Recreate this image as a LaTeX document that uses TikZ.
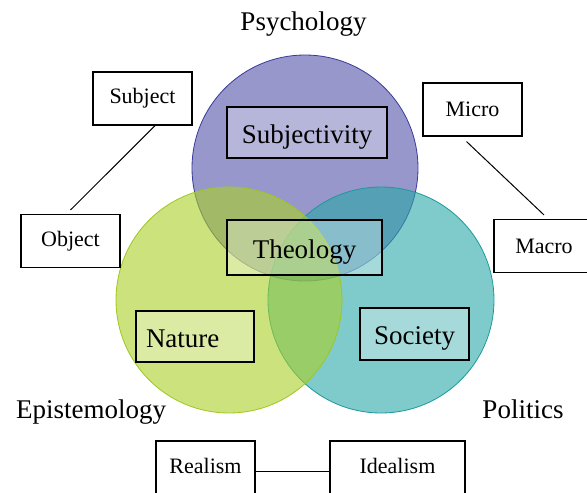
\documentclass[tikz,border=0pt]{standalone}
\usepackage{fontspec}
\setmainfont{Liberation Serif}
\usetikzlibrary{positioning}

\definecolor{psychfill}{RGB}{82,82,170}
\definecolor{psychline}{RGB}{58,58,155}
\definecolor{epifill}{RGB}{170,207,38}
\definecolor{epiline}{RGB}{157,200,30}
\definecolor{socfill}{RGB}{42,167,167}
\definecolor{socline}{RGB}{26,154,154}

\begin{document}
\begin{tikzpicture}[x=1pt,y=-1pt]
	\tikzstyle{venn} =[circle, minimum size=226pt, inner sep=0pt, line width=0.8pt, fill opacity=0.6];
	\tikzstyle{field} =[draw, line width=1.3pt, fill=white, fill opacity=0.3, text opacity=1, font=\fontsize{27}{31}\selectfont, text height=27pt, text depth=6pt, minimum height=51pt];
	\tikzstyle{pole} =[draw, line width=1.1pt, fill=white, font=\fontsize{22}{26}\selectfont, minimum width=99pt, minimum height=53pt];
	\tikzstyle{area} =[font=\fontsize{27}{31}\selectfont, anchor=base];

	\clip (0,0) rectangle (587,493);

	% the three circles
	\node[venn, draw=psychline, fill=psychfill] (psych) at (305,168) {};
	\node[venn, draw=socline, fill=socfill] (soc) at (381,300) {};
	\node[venn, draw=epiline, fill=epifill] (epi) at (229,300) {};

	\node[area] (psychology) at (303.5,30) {Psychology};
	\node[area] (epistemology) at (91,418) {Epistemology};
	\node[area] (politics) at (523,418) {Politics};

	% fields inside the circles
	\node[field, minimum width=160pt] (subjectivity) at (307,132.5) {Subjectivity};
	\node[field, minimum width=155pt, minimum height=55pt] (theology) at (304.5,247.5) {Theology};
	\node[field, text width=98pt, inner xsep=10pt, align=left] (nature) at (195,336.5) {Nature};
	\node[field, minimum width=109pt, minimum height=52pt] (society) at (414.5,334) {Society};

	% pairs of opposites
	\node[pole] (subject) at (142.5,98.5) {Subject};
	\node[pole] (object) at (70.5,241) {Object};
	\node[pole] (micro) at (472.5,109.5) {Micro};
	\node[pole, minimum width=100pt] (macro) at (544,246) {Macro};
	\node[pole, minimum height=60pt, text depth=10pt] (realism) at (205.5,471) {Realism};
	\node[pole, minimum width=135pt, minimum height=60pt, text depth=10pt, right of = realism, node distance=192pt] (idealism) {Idealism};

	\draw[line width=1pt] (subject.-65) -- ([yshift=4pt]object.north);
	\draw[line width=1pt] ([xshift=-6pt,yshift=-5pt]micro.south) -- ([yshift=4pt]macro.north);
	\draw[line width=1pt] (realism.east) -- (idealism.west);
\end{tikzpicture}
\end{document}
